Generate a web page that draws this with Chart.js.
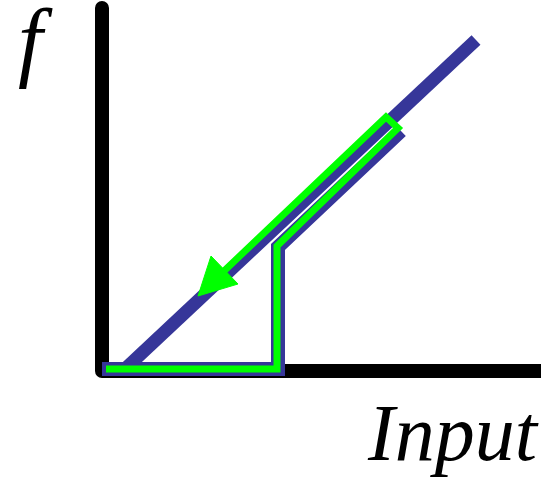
<!DOCTYPE html>
<html>
<head>
<meta charset="utf-8">
<script src="https://cdn.jsdelivr.net/npm/chart.js@4"></script>
<style>
  body { margin: 0; background: #fff; }
  canvas { display: block; }
</style>
</head>
<body>
<canvas id="sketch" width="543" height="480"></canvas>
<script>
'use strict';

// data coords: origin at the corner of the axes, y goes up

let axisPoints = [{x: 0, y: 363}, {x: 0, y: 0}, {x: 439, y: 0}];
let linePoints = [{x: 24, y: 3}, {x: 374, y: 331}];
let trianglePoints = [{x: 0, y: 2}, {x: 176, y: 2}, {x: 176, y: 124}, {x: 299, y: 240}];
let pathPoints = [{x: 122, y: 100}, {x: 284, y: 254}, {x: 296, y: 243}, {x: 175, y: 125}, {x: 175, y: 2}, {x: 4, y: 2}];
let arrowPoints = [{x: 96, y: 75}, {x: 109, y: 115}, {x: 136, y: 87}, {x: 96, y: 75}];

let axisLabels = ['f', 'Input'];

let blue = '#363699';
let green = '#00ff00';

// labels drawn on the canvas after the lines
const labelPlugin = {
  id: 'labels',
  afterDraw(chart) {
    let ctx = chart.ctx;
    ctx.save();
    ctx.fillStyle = '#000';
    ctx.textBaseline = 'alphabetic';
    ctx.font = 'italic 88px "Liberation Serif"';
    ctx.fillText(axisLabels[0], 18, 70);
    ctx.font = 'italic 80px "Liberation Serif"';
    ctx.fillText(axisLabels[1], 368, 460);
    ctx.restore();
  }
};

function lineSet(points, color, width, order, extra) {
  return Object.assign({
    data: points,
    showLine: true,
    borderColor: color,
    backgroundColor: color,
    borderWidth: width,
    pointRadius: 0,
    tension: 0,
    borderCapStyle: 'butt',
    borderJoinStyle: 'miter',
    fill: false,
    order: order
  }, extra || {});
}

const chartConfig = {
  type: 'scatter',
  data: {
    datasets: [
      lineSet(arrowPoints, green, 1, 1, {fill: 'shape'}),
      lineSet(pathPoints, green, 7, 2),
      lineSet(trianglePoints, blue, 14, 3),
      lineSet(linePoints, blue, 13, 4),
      lineSet(axisPoints, '#000', 14, 5, {borderJoinStyle: 'round'})
    ]
  },
  options: {
    responsive: false,
    animation: false,
    devicePixelRatio: 1,
    layout: { padding: 0 },
    plugins: {
      legend: { display: false },
      tooltip: { enabled: false }
    },
    scales: {
      x: { type: 'linear', min: -102, max: 441, display: false },
      y: { type: 'linear', min: -109, max: 371, display: false }
    }
  },
  plugins: [labelPlugin]
};

new Chart(document.getElementById('sketch'), chartConfig);
</script>
</body>
</html>
